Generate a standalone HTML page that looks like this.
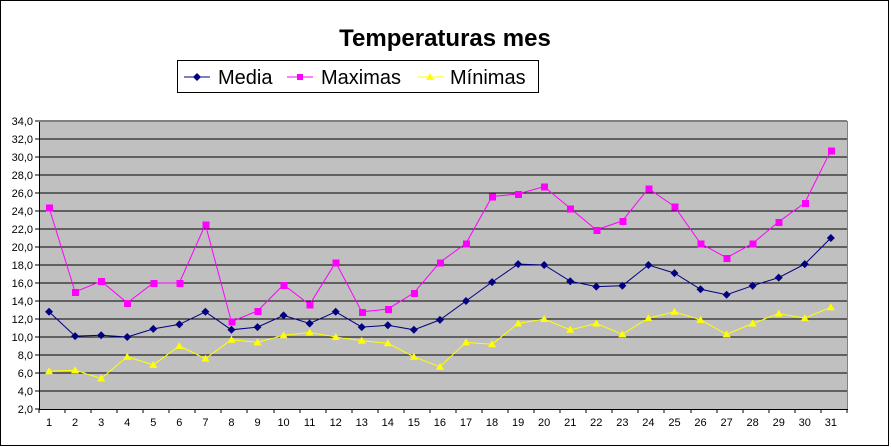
<!DOCTYPE html>
<html><head><meta charset="utf-8"><style>
body{margin:0;background:#fff}
svg{display:block;font-family:"Liberation Sans",Arial,sans-serif}
line,rect{shape-rendering:crispEdges}
</style></head><body>
<svg id="s" width="891" height="447" xmlns="http://www.w3.org/2000/svg">
<rect x="0.5" y="0.5" width="888" height="445" fill="#fff" stroke="#000"/>
<text x="445" y="46" text-anchor="middle" font-size="24" font-weight="bold">Temperaturas mes</text>
<rect x="177.5" y="60.5" width="361" height="32" fill="#fff" stroke="#000"/>
<line x1="184" y1="77" x2="210" y2="77" stroke="#000080"/>
<path d="M197 73L201 77L197 81L193 77Z" fill="#000080"/>
<text x="218" y="84" font-size="20">Media</text>
<line x1="287" y1="77" x2="313" y2="77" stroke="#ff00ff"/>
<rect x="297" y="74" width="6" height="6" fill="#ff00ff"/>
<text x="321" y="84" font-size="20">Maximas</text>
<line x1="417" y1="77" x2="443" y2="77" stroke="#ffff00"/>
<path d="M430 73L434 80L426 80Z" fill="#ffff00"/>
<text x="450" y="84" font-size="20">Mínimas</text>
<rect x="39" y="121" width="808" height="288" fill="#c0c0c0"/>
<g id="g"></g>
</svg>
<script>
var g=document.getElementById('g'),h='';
function Y(v){return 409-(v-2)*9}
function X(i){return 39+13.03+i*26.06}
for(var k=0;k<=16;k++){var y=121+k*18;
 if(k<16)h+='<line x1="39" y1="'+y+'" x2="847" y2="'+y+'" stroke="#000"/>';
 h+='<line x1="35" y1="'+y+'" x2="39" y2="'+y+'" stroke="#000"/>';
 h+='<text x="33" y="'+(y+4)+'" text-anchor="end" font-size="11">'+(34-2*k).toFixed(1).replace('.',',')+'</text>';}
h+='<line x1="39.5" y1="121" x2="39.5" y2="409" stroke="#000"/><line x1="847.5" y1="121" x2="847.5" y2="409" stroke="#808080"/><line x1="39" y1="121.5" x2="847" y2="121.5" stroke="#808080"/><line x1="39" y1="409.5" x2="848" y2="409.5" stroke="#000"/>';
for(var i=0;i<=31;i++){var x=Math.round(39+i*26.06);h+='<line x1="'+x+'" y1="409" x2="'+x+'" y2="413" stroke="#000"/>';
 if(i<31)h+='<text x="'+(X(i)-3)+'" y="426" text-anchor="middle" font-size="11">'+(i+1)+'</text>';}
var me=[12.8,10.1,10.2,10.0,10.9,11.4,12.8,10.8,11.1,12.4,11.5,12.8,11.1,11.3,10.8,11.9,14.0,16.1,18.1,18.0,16.2,15.6,15.7,18.0,17.1,15.3,14.7,15.7,16.6,18.1,21.0];
var ma=[24.4,15.0,16.2,13.8,16.0,16.0,22.5,11.7,12.9,15.8,13.6,18.3,12.8,13.1,14.9,18.3,20.4,25.6,25.9,26.7,24.3,21.9,22.9,26.5,24.5,20.4,18.8,20.4,22.8,24.9,30.7];
var mi=[6.2,6.3,5.4,7.8,6.9,9.0,7.6,9.7,9.4,10.2,10.5,10.0,9.6,9.3,7.8,6.7,9.4,9.2,11.5,12.0,10.8,11.5,10.3,12.1,12.8,11.9,10.3,11.5,12.6,12.1,13.3];
function ser(d,c,m){var p=d.map(function(v,i){return (X(i)-3).toFixed(1)+','+Y(v).toFixed(1)}).join(' ');
 h+='<polyline points="'+p+'" fill="none" stroke="'+c+'"/>';
 d.forEach(function(v,i){var x=X(i)-3,y=Y(v);
  if(m==0)h+='<path d="M'+x+' '+(y-4)+'L'+(x+4)+' '+y+'L'+x+' '+(y+4)+'L'+(x-4)+' '+y+'Z" fill="'+c+'"/>';
  else if(m==1)h+='<rect x="'+(x-3)+'" y="'+(y-3)+'" width="7" height="7" fill="'+c+'"/>';
  else h+='<path d="M'+x+' '+(y-4)+'L'+(x+4)+' '+(y+3)+'L'+(x-4)+' '+(y+3)+'Z" fill="'+c+'"/>';});}
ser(mi,'#ffff00',2);ser(ma,'#ff00ff',1);ser(me,'#000080',0);
g.innerHTML=h;
</script>
</body></html>
